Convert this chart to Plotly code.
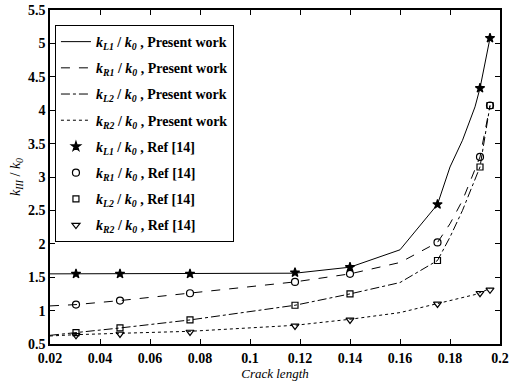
import plotly.graph_objects as go

# Present work (lines)
x_line = [0.02, 0.0304, 0.048, 0.076, 0.118, 0.14, 0.16, 0.175, 0.18, 0.185, 0.19, 0.192, 0.196]
kL1_line = [1.55, 1.55, 1.55, 1.55, 1.56, 1.65, 1.91, 2.59, 3.15, 3.55, 4.05, 4.33, 5.08]
kR1_line = [1.07, 1.09, 1.15, 1.26, 1.43, 1.55, 1.72, 2.02, 2.3, 2.65, 3.1, 3.3, 4.07]
kL2_line = [0.63, 0.67, 0.74, 0.86, 1.08, 1.25, 1.42, 1.75, 2.1, 2.5, 2.95, 3.15, 4.07]
kR2_line = [0.62, 0.64, 0.66, 0.69, 0.78, 0.87, 0.97, 1.1, 1.15, 1.19, 1.24, 1.27, 1.33]

# Ref [14] (markers)
x_ref = [0.0304, 0.048, 0.076, 0.118, 0.14, 0.175, 0.192, 0.196]
kL1_ref = [1.55, 1.55, 1.55, 1.57, 1.65, 2.59, 4.33, 5.08]
kR1_ref = [1.09, 1.15, 1.26, 1.43, 1.55, 2.02, 3.3, 4.07]
kL2_ref = [0.67, 0.74, 0.86, 1.08, 1.25, 1.75, 3.15, 4.07]
kR2_ref = [0.63, 0.65, 0.68, 0.77, 0.86, 1.1, 1.26, 1.31]

x_ticks = [0.02, 0.04, 0.06, 0.08, 0.1, 0.12, 0.14, 0.16, 0.18, 0.2]
x_ticklabels = ["0.02", "0.04", "0.06", "0.08", "0.1", "0.12", "0.14", "0.16", "0.18", "0.2"]
y_ticks = [0.5, 1, 1.5, 2, 2.5, 3, 3.5, 4, 4.5, 5, 5.5]
y_ticklabels = ["0.5", "1", "1.5", "2", "2.5", "3", "3.5", "4", "4.5", "5", "5.5"]

SERIF = "Liberation Serif, Times New Roman, serif"

def name(sub, tail):
    return f"<i>k</i><sub><i>{sub}</i></sub> / <i>k</i><sub><i>0</i></sub> , {tail}"

fig = go.Figure()
g = 0
for y, sub, dash in [(kL1_line, "L1", "solid"), (kR1_line, "R1", "dash"),
                     (kL2_line, "L2", "dashdot"), (kR2_line, "R2", "dot")]:
    g += 1
    fig.add_trace(go.Scatter(x=x_line, y=y, mode="lines", name=name(sub, "Present work"),
                             legendgroup=f"g{g}",
                             line=dict(color="black", width=1, dash=dash)))
for y, sub, sym, sz in [(kL1_ref, "L1", "star", 7), (kR1_ref, "R1", "circle-open", 7),
                        (kL2_ref, "L2", "square-open", 6), (kR2_ref, "R2", "triangle-down-open", 7)]:
    g += 1
    fig.add_trace(go.Scatter(x=x_ref, y=y, mode="markers", name=name(sub, "Ref [14]"),
                             legendgroup=f"g{g}",
                             marker=dict(color="black", symbol=sym, size=sz,
                                         line=dict(color="black", width=1.2))))

axis_common = dict(showline=True, linecolor="black", linewidth=1.5, mirror="ticks",
                   ticks="inside", ticklen=5, tickcolor="black", showgrid=False, zeroline=False,
                   automargin=False,
                   tickfont=dict(family=SERIF, size=14, color="black", weight="bold"))

fig.update_layout(
    width=509, height=381,
    margin=dict(l=50, r=9, t=10, b=37),
    paper_bgcolor="white", plot_bgcolor="white",
    font=dict(family=SERIF, color="black"),
    xaxis=dict(range=[0.02, 0.2], tickvals=x_ticks, ticktext=x_ticklabels,
               title=dict(text="<i>Crack length</i>", font=dict(family=SERIF, size=13), standoff=2), **axis_common),
    yaxis=dict(range=[0.5, 5.5], tickvals=y_ticks, ticktext=y_ticklabels,
               title=dict(text="<i>k</i><sub><i>III</i></sub> / <i>k</i><sub><i>0</i></sub>",
                          font=dict(family=SERIF, size=14), standoff=4),
               **axis_common),
    legend=dict(x=0.011, y=0.955, xanchor="left", yanchor="top", bordercolor="black", borderwidth=1,
                bgcolor="white", font=dict(family=SERIF, size=14, color="black", weight="bold"),
                tracegroupgap=5, itemwidth=30),
    showlegend=True,
)
fig.write_html("out.html")
